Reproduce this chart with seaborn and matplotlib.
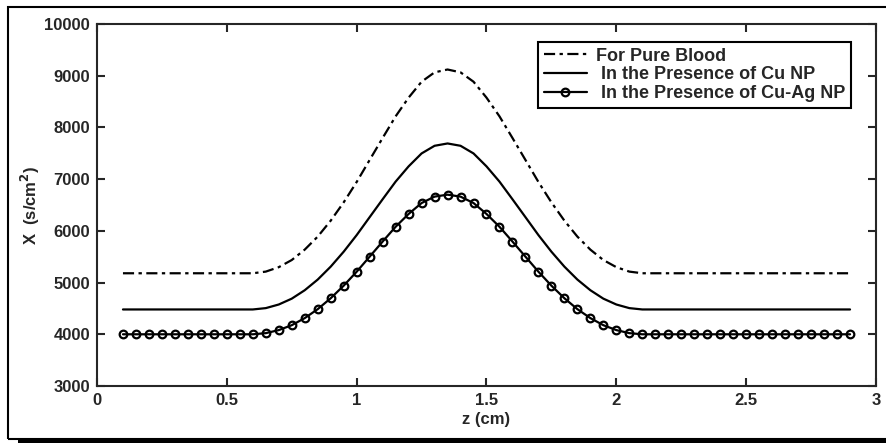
import numpy as np
import pandas as pd
import seaborn as sns
import matplotlib.pyplot as plt
from matplotlib.patches import Rectangle

# === data ===
z = [0.10, 0.15, 0.20, 0.25, 0.30, 0.35, 0.40, 0.45, 0.50, 0.55, 0.60,
     0.65, 0.70, 0.75, 0.80, 0.85, 0.90, 0.95, 1.00, 1.05, 1.10, 1.15, 1.20, 1.25, 1.30, 1.35,
     1.40, 1.45, 1.50, 1.55, 1.60, 1.65, 1.70, 1.75, 1.80, 1.85, 1.90, 1.95, 2.00, 2.05, 2.10,
     2.15, 2.20, 2.25, 2.30, 2.35, 2.40, 2.45, 2.50, 2.55, 2.60, 2.65, 2.70, 2.75, 2.80, 2.85, 2.90]

pure_blood = [5180] * 11 + [
    5212, 5298, 5436, 5637, 5889, 6197, 6551, 6945, 7371, 7796, 8214, 8576, 8884, 9065, 9120,
    9065, 8884, 8576, 8214, 7796, 7371, 6945, 6551, 6197, 5889, 5637, 5436, 5298, 5212, 5180,
] + [5180] * 16

cu_np = [4480] * 11 + [
    4506, 4576, 4689, 4852, 5058, 5308, 5597, 5918, 6265, 6611, 6952, 7247, 7497, 7645, 7690,
    7645, 7497, 7247, 6952, 6611, 6265, 5918, 5597, 5308, 5058, 4852, 4689, 4576, 4506, 4480,
] + [4480] * 16

cu_ag_np = [4000] * 11 + [
    4022, 4081, 4176, 4313, 4486, 4697, 4940, 5210, 5501, 5793, 6079, 6327, 6538, 6662, 6700,
    6662, 6538, 6327, 6079, 5793, 5501, 5210, 4940, 4697, 4486, 4313, 4176, 4081, 4022, 4000,
] + [4000] * 16

labels = ["For Pure Blood", " In the Presence of Cu NP", " In the Presence of Cu-Ag NP"]

df = pd.DataFrame({"z": z, "pure": pure_blood, "cu": cu_np, "cuag": cu_ag_np})

# === style ===
sns.set_style("ticks")
plt.rcParams["font.family"] = ["Liberation Sans", "DejaVu Sans"]
plt.rcParams["font.weight"] = "bold"
plt.rcParams["font.size"] = 12

fig = plt.figure(figsize=(8.87, 4.43), dpi=100)
ax = fig.add_axes([97 / 887, 1 - 386 / 443, (876 - 97) / 887, (386 - 24) / 443])

sns.lineplot(data=df, x="z", y="pure", ax=ax, color="black", linewidth=1.6,
             label=labels[0])
ax.lines[-1].set_dashes([5, 2, 1.5, 2])
sns.lineplot(data=df, x="z", y="cu", ax=ax, color="black", linewidth=1.6,
             label=labels[1])
sns.lineplot(data=df, x="z", y="cuag", ax=ax, color="black", linewidth=1.6,
             marker="o", markersize=5.5, markerfacecolor="none", markeredgecolor="black",
             markeredgewidth=1.6, label=labels[2])

ax.set_xlim(0, 3)
ax.set_ylim(3000, 10000)
ax.set_xticks([0, 0.5, 1, 1.5, 2, 2.5, 3])
ax.set_xticklabels(["0", "0.5", "1", "1.5", "2", "2.5", "3"])
ax.set_yticks(range(3000, 10001, 1000))
ax.tick_params(direction="in", length=6, width=1.5, top=True, right=True,
               labelsize=12, pad=5)
for lab in ax.get_xticklabels() + ax.get_yticklabels():
    lab.set_fontweight("bold")
for sp in ax.spines.values():
    sp.set_linewidth(1.5)
    sp.set_visible(True)

ax.set_xlabel("z (cm)", fontsize=12, fontweight="bold", labelpad=3)
ax.set_ylabel("X  (s/cm$^\\mathbf{2}$)", fontsize=12, fontweight="bold", labelpad=1.5)

leg = ax.legend(loc="upper right", bbox_to_anchor=(0.9675, 0.95), frameon=True, fancybox=False,
                edgecolor="black", framealpha=1, borderpad=0.3, labelspacing=0.1,
                handlelength=2.4, handletextpad=0.5, borderaxespad=0,
                prop={"weight": "bold", "size": 13})
leg.get_frame().set_linewidth(1.5)

# outer frame with shadow like the reference
fig.patches.append(Rectangle((8 / 887, 1 - 439 / 443), 1.0, (439 - 7) / 443,
                             transform=fig.transFigure, fill=False,
                             edgecolor="black", linewidth=1.5))
fig.patches.append(Rectangle((18 / 887, 0), 1.0, 5 / 443, transform=fig.transFigure,
                             facecolor="black", edgecolor="none"))

plt.savefig("out.png", dpi=100)
